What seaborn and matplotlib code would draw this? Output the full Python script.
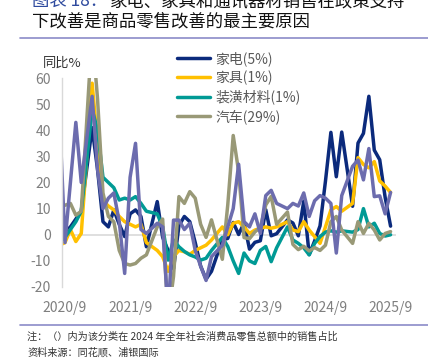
import matplotlib
matplotlib.use("Agg")
import matplotlib.pyplot as plt
from matplotlib.lines import Line2D
import pandas as pd
import seaborn as sns

# months: 2020/8 .. 2025/9, January folded into Jan-Feb (reported in Feb)
months = ["2020/8", "2020/9", "2020/10", "2020/11", "2020/12"]
for yr in [2021, 2022, 2023, 2024]:
    months += [f"{yr}/{mo}" for mo in range(2, 13)]
months += [f"2025/{mo}" for mo in range(2, 10)]

# year-on-year growth, %
appliances = [0, 1, 3, 6, 9,
              41, 25, 5, 3, 9.5, 4, -0.7, 8, 9.5, 7, -4.6,
              12.7, -1, -6, -13, 3.5, 7, 5, -3, -12, -17, -14,
              -1.9, -1.4, 4.7, 0.1, 4.5, -5.5, -2.9, -2.3, 9.6, -0.4, 0.4,
              5.7, 4.5, -0.4, 12.9, -7.6, -2.4, 3.4, 20.5, 39.2, 22.2, 39.3,
              10.9, 35.1, 38.8, 53.0, 32.4, 28.7, 14.3, 3.3]
furniture = [-4, -3, 2, -2.6, 0.5,
             58, 35, 13, 11, 9.5, 7, 5, 4, 3, 4, -3,
             -6, -8.4, -14, -8.4, -6, -6.5, -7.5, -6, -5, -4, -2,
             3, 0, 4.4, 5, 3, 0.5, 1.8, 2.5, 3, 2.5, 3,
             5, 1.8, 1.2, 5, 1.8, -0.7, -3.3, 3, 9.5, 10.8, 9,
             12, 29.5, 26.9, 25.6, 28, 20.6, 18.6, 16.2]
decoration = [-3, -1, 2, 5, 9,
              48, 40, 22, 20, 18, 13.3, 14, 13.3, 14.6, 12, 9,
              8, 3, -9.7, -2, -4.6, -6.4, -7.7, -8.5, -9.7, -9, -6,
              -1, -4.5, -10, -14.8, -7, -10, -11, -6, -4.5, -10.3, -5,
              3, -2, -3.3, -5, -7.7, -3.3, -0.7, 1, 1.5, 1, 1.5,
              1, 2, 10, 3, 4.4, 0.5, -0.5, 0]
autos = [11, 11.3, 12, 7.5, 9,
         77.6, 52, 16, 7, 5, -6, -11, -11.6, -11, -9, -7.7,
         3, 6, -31.6, -16, 14.6, 12, 16.5, 14, 4, -1, 5.7,
         -9.4, 11.5, 38, 24.2, -1.1, -1.5, 1.1, 2.8, 11.4, 14.7, 4.0,
         8.7, -3.7, -5.7, -4.4, -6.2, -4.9, -6, -4, 5, 7, 1.8,
         -3.3, 5, 0.5, 4.4, 1.8, -2, 0.5, 1.2]
telecom = [45, -3, 20, 43, 20,
           53, 25, 10, 14, 16, 5, -14.8, 22, 35, 2, 0.5,
           4.4, 3, -30, 5.6, 5.6, 2, 4.4, -6, -12, -17.5, -8.4,
           -4, 3, 10, 27, 5, 3, 8, 0.5, 15, 17, 12,
           10, 12, 11, 16, 7, 13, 15, 14, 12, -7, 15,
           26.2, 28.6, 21, 33, 14.6, 14.9, 8, 16.2]

series_names = ["家电(5%)", "家具(1%)", "装潢材料(1%)", "汽车(29%)", "通讯器材"]
series_values = [appliances, furniture, decoration, autos, telecom]
colors = ["#0b2a7c", "#ffc000", "#009a95", "#999977", "#6c6cae"]

tick_months = ["2020/9", "2021/9", "2022/9", "2023/9", "2024/9", "2025/9"]


def month_pos(s):
    y, m = s.split("/")
    return (int(y) - 2020) * 12 + int(m) - 9


rows = []
for name, vals in zip(series_names, series_values):
    for mo, v in zip(months, vals):
        rows.append({"m": month_pos(mo), "val": v, "series": name})
df = pd.DataFrame(rows)

sns.set_theme(style="white")
plt.rcParams["font.family"] = ["Noto Sans CJK SC", "DejaVu Sans"]
plt.rcParams["axes.unicode_minus"] = False

fig = plt.figure(figsize=(4.28, 3.64), dpi=100)
W, H = 428, 364
ax = fig.add_axes([62 / W, 1 - 287 / H, (396 - 62) / W, (287 - 78) / H])

ax.axhline(0, color="#d9d9d9", lw=1.2, zorder=0)
sns.lineplot(data=df, x="m", y="val", hue="series", hue_order=series_names,
             palette=dict(zip(series_names, colors)), linewidth=2.5,
             estimator=None, legend=False, ax=ax)

ax.set_xlim(-0.55, 61)
ax.set_ylim(-20, 60)
ax.set_yticks(range(-20, 61, 10))
ax.set_xticks([month_pos(t) for t in tick_months])
ax.set_xticklabels(tick_months)
ax.set_xlabel("")
ax.set_ylabel("")
ax.tick_params(axis="both", length=0, labelsize=10, labelcolor="#7f7f7f")
ax.tick_params(axis="x", pad=10)
ax.tick_params(axis="y", pad=8)
for side in ["top", "right", "bottom"]:
    ax.spines[side].set_visible(False)
ax.spines["left"].set_color("#d9d9d9")
ax.spines["left"].set_linewidth(1)

# legend (only four categories are listed in the original)
handles = [Line2D([], [], color=c, lw=2.5) for c in colors[:4]]
leg = fig.legend(handles, series_names[:4], loc="upper left",
                 bbox_to_anchor=(177 / W, 1 - 51 / H), frameon=False,
                 fontsize=10, handlelength=2.4, handletextpad=0.35,
                 labelspacing=0.33, borderpad=0, borderaxespad=0)
for t in leg.get_texts():
    t.set_color("#595959")

fig.text(62 / W, 1 - 63 / H, "同比%", ha="center", va="center",
         fontsize=9.5, color="#333333")

# title (first line is cut off at the top of the crop, as in the source)
fig.text(32 / W, 1 - 1 / H, "图表 18：", fontsize=12.5, color="#2e4a9e",
         va="center", weight="medium")
fig.text(110 / W, 1 - 1 / H, "家电、家具和通讯器材销售在政策支持", fontsize=12.5,
         color="#111111", va="center", weight="medium")
fig.text(32 / W, 1 - 21 / H, "下改善是商品零售改善的最主要原因", fontsize=12.5,
         color="#111111", va="center", weight="medium")

fig.add_artist(Line2D([20 / W, 1], [1 - 37.5 / H] * 2, color="#8b8bc8", lw=1.2))
fig.add_artist(Line2D([20 / W, 1], [1 - 325 / H] * 2, color="#8b8bc8", lw=1.2))

fig.text(27 / W, 1 - 337 / H, "注：（）内为该分类在 2024 年全年社会消费品零售总额中的销售占比",
         fontsize=7.3, color="#333333", va="center")
fig.text(27 / W, 1 - 352 / H, "资料来源：同花顺、浦银国际", fontsize=7.3,
         color="#333333", va="center")

fig.savefig("out.png", dpi=100)
